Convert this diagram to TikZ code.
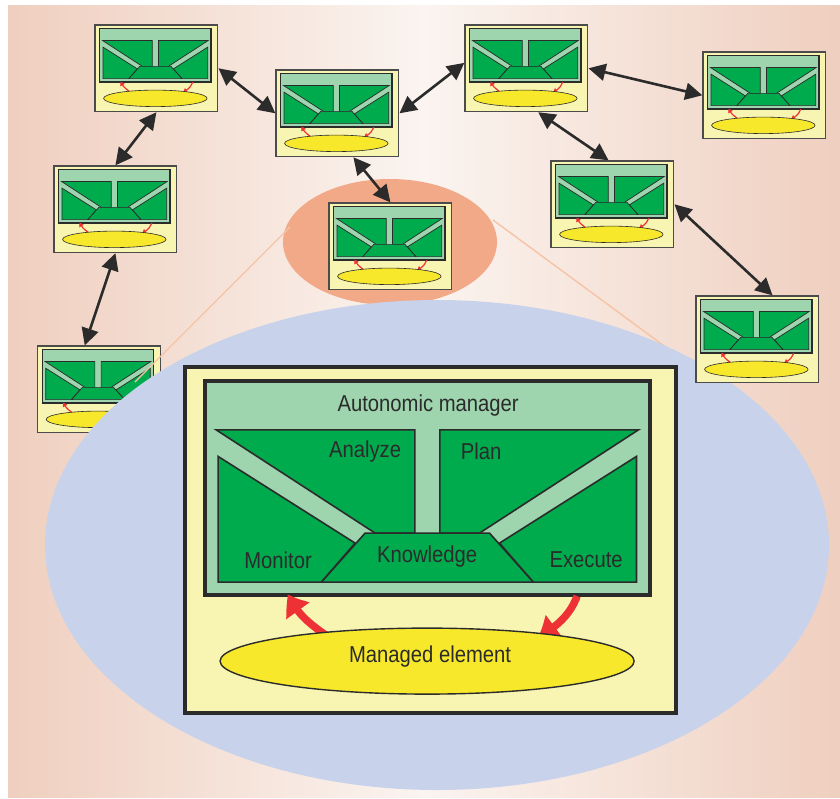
\documentclass[tikz,border=0pt]{standalone}
\usepackage{fontspec}
\setmainfont[FakeStretch=0.88]{Liberation Sans}
\usetikzlibrary{arrows.meta,bending}
\definecolor{bgedge}{HTML}{EFCFBF}
\definecolor{bgmid}{HTML}{FBF4F0}
\definecolor{orangeell}{HTML}{F2A987}
\definecolor{blueell}{HTML}{C8D3EB}
\definecolor{boxyel}{HTML}{F8F4B2}
\definecolor{lgreen}{HTML}{9ED5AE}
\definecolor{dgreen}{HTML}{00AB4E}
\definecolor{yell}{HTML}{F7E82C}
\definecolor{redar}{HTML}{EE3134}
\definecolor{tanline}{HTML}{F6C3A5}
\definecolor{darkline}{HTML}{2B2B2B}
\tikzset{
  aminner/.style={draw=darkline, line width=3.5pt, fill=lgreen},
  amreg/.style={draw=darkline, line width=1.6pt, fill=dgreen},
  amell/.style={draw=darkline, line width=1.4pt, fill=yell},
  amred/.style={draw=redar, line width=7.5pt, -{Triangle[length=20pt,width=27pt,bend]}},
  smallstyles/.style={
    aminner/.style={draw=darkline, line width=1.3pt, fill=lgreen},
    amreg/.style={draw=darkline, line width=0.7pt, fill=dgreen},
    amell/.style={draw=darkline, line width=0.6pt, fill=yell},
    amred/.style={draw=redar, line width=1.2pt, -{Triangle[length=4pt,width=5pt]}}},
  smallnode/.style={draw=darkline!85, line width=1.4pt, fill=boxyel,
    minimum width=122.75pt, minimum height=86.5pt, inner sep=0pt},
  bignode/.style={draw=darkline, line width=3.8pt, fill=boxyel,
    minimum width=491pt, minimum height=346pt, inner sep=0pt},
  amtext/.style={text=darkline, font=\fontsize{23}{27}\selectfont, inner sep=0pt, anchor=center},
  biarrow/.style={draw=darkline, line width=2.6pt,
    {Triangle[length=17pt,width=17pt]}-{Triangle[length=17pt,width=17pt]}},
  amcore/.pic={
    \draw[aminner] (22,16) rectangle (467,230);
    \draw[amreg] (33,64.7) -- (231.7,64.7) -- (231.7,168) -- (192,168) -- cycle;
    \draw[amreg] (256.7,64.7) -- (455.4,64.7) -- (296.4,168) -- (256.7,168) -- cycle;
    \draw[amreg] (35,91.3) -- (172,178) -- (138.3,217) -- (35,217) -- cycle;
    \draw[amreg] (453.4,91.3) -- (316.4,178) -- (350.1,217) -- (453.4,217) -- cycle;
    \draw[amreg] (138.3,217) -- (182,168) -- (306.4,168) -- (350.1,217) -- cycle;
    \draw[amred] (150,275) .. controls (128,260) and (114,250) .. (105,229);
    \draw[amred] (394,231) .. controls (388,247) and (377,260) .. (355,272);
    \draw[amell] (244,296) ellipse [x radius=207, y radius=33];
  }
}
\begin{document}
\begin{tikzpicture}[x=1pt,y=-1pt]
\useasboundingbox (0,0) rectangle (840,798);
\shade[left color=bgedge, right color=bgedge, middle color=bgmid] (8,5) rectangle (840,797);
% zoom source ellipse
\fill[orangeell] (390,242) ellipse [x radius=107, y radius=63];
% small autonomic elements
\node[smallnode] (n1) at (156.4,68.3) {};
\node[smallnode] (n2) at (337.4,113.3) {};
\node[smallnode] (n3) at (526.4,68.3) {};
\node[smallnode] (n4) at (764.4,95.3) {};
\node[smallnode] (n5) at (115.4,209.3) {};
\node[smallnode] (n6) at (390.4,246.3) {};
\node[smallnode] (n7) at (612.4,204.3) {};
\node[smallnode] (n9) at (99,389.3) {};
\foreach \n in {n1,n2,n3,n4,n5,n6,n7,n9}{
  \path (\n.north west) pic[smallstyles, scale=0.25] {amcore};
}
% zoom lines
\draw[tanline, line width=1.4pt] (290,227) -- (135,382);
\draw[tanline, line width=1.4pt] (493,220) -- (705,376);
% zoomed ellipse
\fill[blueell] (437,545) ellipse [x radius=392, y radius=245];
\node[smallnode] (n8) at (757.4,339.3) {};
\path (n8.north west) pic[smallstyles, scale=0.25] {amcore};
% big autonomic element
\node[bignode] (am) at (430.5,540) {};
\path (am.north west) pic {amcore};
\node[amtext] (tam) at ([shift={(245,40)}]am.north west) {Autonomic manager};
\node[amtext] (tan) at ([shift={(182,86)}]am.north west) {Analyze};
\node[amtext] (tpl) at ([shift={(298,86)}]am.north west) {Plan};
\node[amtext] (tmo) at ([shift={(95,195)}]am.north west) {Monitor};
\node[amtext] (tkn) at ([shift={(244,191)}]am.north west) {Knowledge};
\node[amtext] (tex) at ([shift={(403,195)}]am.north west) {Execute};
\node[amtext] (tme) at ([shift={(247,291)}]am.north west) {Managed element};
% connections
\draw[biarrow] (n1.east) -- (n2.west);
\draw[biarrow] (n2.east) -- (n3.175);
\draw[biarrow] (n3.east) -- (n4.west);
\draw[biarrow] (n1.south) -- (n5.north);
\draw[biarrow] (n5.south) -- (n9.108);
\draw[biarrow] (n2.-70) -- (n6.north);
\draw[biarrow] (n3.-75) -- (n7.95);
\draw[biarrow] (n7.east) -- (n8.71);
\end{tikzpicture}
\end{document}
